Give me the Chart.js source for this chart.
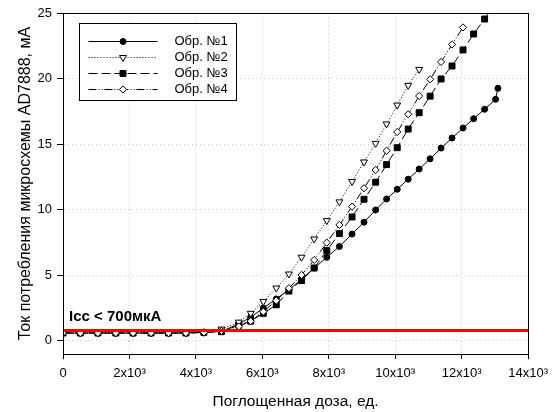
<!DOCTYPE html>
<html>
<head>
<meta charset="utf-8">
<script src="https://cdn.jsdelivr.net/npm/chart.js"></script>
<style>
  html, body { margin: 0; padding: 0; background: #fff; }
  canvas { display: block; }
</style>
</head>
<body>
<canvas id="doseChart" width="555" height="412"></canvas>
<script>
// поглощенная доза, ед. (общая для всех образцов)
const dose = [0, 520, 1050, 1590, 2110, 2650, 3180, 3700, 4240, 4770, 5290, 5650, 6030, 6420, 6800,
  7180, 7560, 7940, 8320, 8700, 9060, 9410, 9740, 10060, 10390, 10720, 11050, 11380, 11710,
  12040, 12360, 12690, 13020, 13090];

// ток потребления, мА
const sample1 = [0.6, 0.6, 0.6, 0.6, 0.6, 0.6, 0.6, 0.6, 0.65, 0.72, 1.3, 1.8, 2.5, 3.2, 3.9,
  4.7, 5.55, 6.37, 7.2, 8.15, 9.05, 9.98, 10.82, 11.56, 12.33, 13.1, 13.88, 14.7, 15.47,
  16.23, 16.94, 17.66, 18.42, 19.26];
const sample2 = [0.6, 0.6, 0.6, 0.6, 0.6, 0.6, 0.6, 0.6, 0.65, 0.9, 1.43, 2.1, 3.0, 4.03, 5.1,
  6.38, 7.77, 9.17, 10.6, 12.15, 13.64, 15.06, 16.54, 17.98, 19.48, 20.7];
const sample3 = [0.6, 0.6, 0.6, 0.6, 0.6, 0.6, 0.6, 0.6, 0.65, 0.7, 1.2, 1.5, 2.1, 2.75, 3.8,
  4.6, 5.56, 6.88, 8.18, 9.45, 10.8, 12.1, 13.44, 14.73, 16.15, 17.4, 18.66, 19.97, 20.96,
  22.18, 23.4, 24.54, 25.8];
const sample4 = [0.6, 0.6, 0.6, 0.6, 0.6, 0.6, 0.6, 0.6, 0.65, 0.76, 1.1, 1.5, 2.23, 3.07, 4.02,
  5.03, 6.17, 7.49, 8.84, 10.24, 11.64, 13.03, 14.5, 15.93, 17.28, 18.67, 19.94, 21.27, 22.6, 23.9];

const sampleNames = ['Обр. №1', 'Обр. №2', 'Обр. №3', 'Обр. №4'];
const iccLimit = 0.8;
const iccText = 'Icc < 700мкА';

const xTicks = [0, 2000, 4000, 6000, 8000, 10000, 12000, 14000];
const yTicks = [0, 5, 10, 15, 20, 25];

const FONT = "'Liberation Sans', Arial, Helvetica, sans-serif";

function toPoints(values) {
  return values.map((v, i) => ({ x: dose[i], y: v }));
}

function xLabel(v) {
  if (v === 0) return '0';
  return (v / 1000) + 'x10³';
}

// маркеры для самодельной легенды
function drawMarker(ctx, ds, x, y) {
  const r = ds.pointRadius;
  ctx.save();
  ctx.beginPath();
  if (ds.pointStyle === 'circle') {
    ctx.arc(x, y, r, 0, Math.PI * 2);
  } else if (ds.pointStyle === 'triangle') {
    // треугольник вершиной вниз
    const h = r * Math.sqrt(3) / 2;
    ctx.moveTo(x - h, y - r / 2);
    ctx.lineTo(x + h, y - r / 2);
    ctx.lineTo(x, y + r);
    ctx.closePath();
  } else if (ds.pointStyle === 'rect') {
    const s = r * Math.SQRT1_2;
    ctx.rect(x - s, y - s, 2 * s, 2 * s);
  } else if (ds.pointStyle === 'rectRot') {
    ctx.moveTo(x, y - r);
    ctx.lineTo(x + r, y);
    ctx.lineTo(x, y + r);
    ctx.lineTo(x - r, y);
    ctx.closePath();
  }
  ctx.fillStyle = ds.pointBackgroundColor;
  ctx.fill();
  ctx.lineWidth = 1;
  ctx.strokeStyle = '#000';
  ctx.stroke();
  ctx.restore();
}

const decorPlugin = {
  id: 'decor',
  afterDatasetsDraw(chart) {
    const { ctx, chartArea: a, scales } = chart;
    ctx.save();

    // надпись у красной линии
    ctx.fillStyle = '#000';
    ctx.font = 'bold 15px ' + FONT;
    ctx.textBaseline = 'alphabetic';
    ctx.textAlign = 'left';
    ctx.fillText(iccText, a.left + 6, scales.y.getPixelForValue(iccLimit) - 9);

    // рамка области построения
    ctx.strokeStyle = '#000';
    ctx.lineWidth = 1;
    ctx.strokeRect(Math.round(a.left) + 0.5, Math.round(a.top) + 0.5,
      Math.round(a.right - a.left), Math.round(a.bottom - a.top));

    // легенда
    const bx = a.left + 16.5, by = a.top + 10.5, bw = 157, bh = 77;
    ctx.fillStyle = '#fff';
    ctx.fillRect(bx, by, bw, bh);
    ctx.strokeRect(bx, by, bw, bh);
    ctx.font = '13px ' + FONT;
    ctx.textBaseline = 'middle';
    for (let i = 0; i < 4; i++) {
      const ds = chart.data.datasets[i];
      const ry = Math.round(by + 17 + i * 16.3) + 0.5;
      const x0 = bx + 9, x1 = bx + 78;
      ctx.save();
      ctx.setLineDash(ds.borderDash || []);
      ctx.strokeStyle = '#000';
      ctx.lineWidth = 1;
      ctx.beginPath();
      ctx.moveTo(x0, ry);
      ctx.lineTo(x1, ry);
      ctx.stroke();
      ctx.restore();
      drawMarker(ctx, ds, (x0 + x1) / 2, ry);
      ctx.fillStyle = '#000';
      ctx.fillText(sampleNames[i], bx + 95, ry);
    }
    ctx.restore();
  }
};

const seriesStyle = (name, values, pointStyle, fill, dash, order, radius) => ({
  label: name,
  data: toPoints(values),
  borderColor: '#000',
  borderWidth: 1,
  borderDash: dash,
  pointStyle: pointStyle,
  pointRadius: radius,
  pointRotation: pointStyle === 'triangle' ? 180 : 0,
  pointBackgroundColor: fill,
  pointBorderColor: '#000',
  pointBorderWidth: 1,
  showLine: true,
  tension: 0,
  order: order
});

new Chart(document.getElementById('doseChart'), {
  type: 'scatter',
  data: {
    datasets: [
      seriesStyle(sampleNames[0], sample1, 'circle', '#000', [], 4, 3),
      seriesStyle(sampleNames[1], sample2, 'triangle', '#fff', [1, 2], 2, 4),
      seriesStyle(sampleNames[2], sample3, 'rect', '#000', [9, 4], 3, 4.2),
      seriesStyle(sampleNames[3], sample4, 'rectRot', '#fff', [8, 2, 1, 2, 1, 2], 1, 3.6),
      {
        label: 'Icc',
        data: [{ x: xTicks[0], y: iccLimit }, { x: xTicks[xTicks.length - 1], y: iccLimit }],
        borderColor: '#ff0000',
        borderWidth: 3,
        pointRadius: 0,
        showLine: true,
        order: 0
      }
    ]
  },
  options: {
    responsive: false,
    animation: false,
    devicePixelRatio: 1,
    layout: { padding: { left: 0, right: 20, top: 13, bottom: 0 } },
    plugins: { legend: { display: false }, tooltip: { enabled: false } },
    scales: {
      x: {
        type: 'linear',
        min: 0,
        max: 14000,
        afterBuildTicks: s => { s.ticks = xTicks.map(v => ({ value: v })); },
        afterFit: s => { s.height = 58; },
        ticks: { callback: v => xLabel(v), color: '#000', font: { family: FONT, size: 13 }, padding: 7, maxRotation: 0, autoSkip: false },
        grid: { color: '#cacaca', lineWidth: 1, tickLength: 5, tickColor: '#000', tickWidth: 1 },
        border: { color: '#000', width: 1, dash: [1, 3] },
        title: { display: true, text: 'Поглощенная доза, ед.', color: '#000', font: { family: FONT, size: 15.5 }, padding: { top: 0, bottom: 1 } }
      },
      y: {
        type: 'linear',
        min: -1,
        max: 25,
        afterBuildTicks: s => { s.ticks = yTicks.map(v => ({ value: v })); },
        afterFit: s => { s.width = 63; },
        ticks: { color: '#000', font: { family: FONT, size: 13 }, padding: 5 },
        grid: { color: '#cacaca', lineWidth: 1, tickLength: 6, tickColor: '#000', tickWidth: 1 },
        border: { color: '#000', width: 1, dash: [1, 3] },
        title: { display: true, text: 'Ток потребления микросхемы AD7888, мА', color: '#000', font: { family: FONT, size: 16 }, padding: { top: 16, bottom: 0 } }
      }
    }
  },
  plugins: [decorPlugin]
});
</script>
</body>
</html>
